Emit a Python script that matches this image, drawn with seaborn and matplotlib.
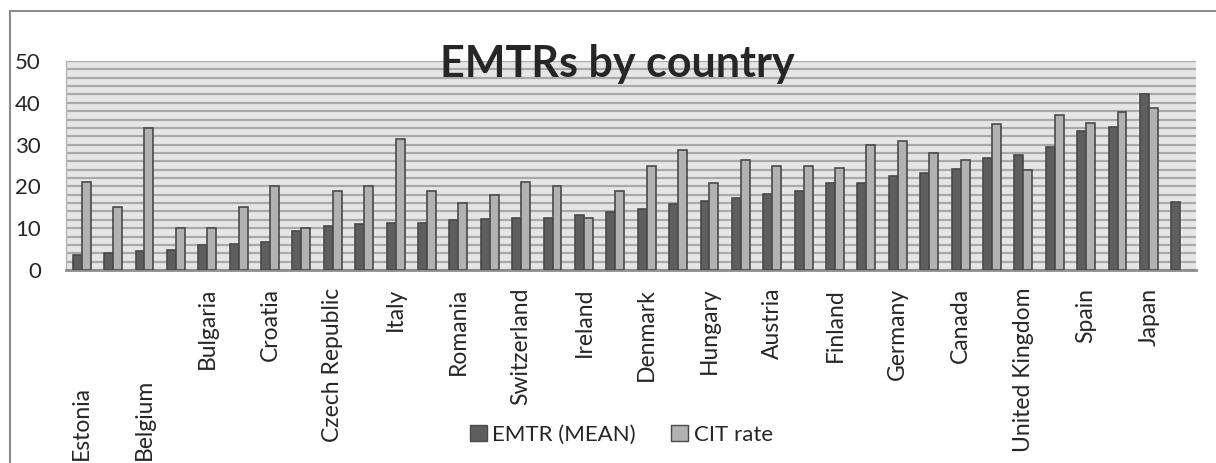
import numpy as np
import pandas as pd
import matplotlib
matplotlib.use('Agg')
import matplotlib.pyplot as plt
import seaborn as sns
from matplotlib.patches import Rectangle, Patch
from matplotlib.ticker import MultipleLocator

# every other category label is hidden in the original chart (Excel skips them)
labels = ['Estonia', '', 'Belgium', '', 'Bulgaria', '', 'Croatia', '',
          'Czech Republic', '', 'Italy', '', 'Romania', '', 'Switzerland', '',
          'Ireland', '', 'Denmark', '', 'Hungary', '', 'Austria', '',
          'Finland', '', 'Germany', '', 'Canada', '', 'United Kingdom', '',
          'Spain', '', 'Japan', '']
emtr = [3.5, 4.1, 4.5, 4.7, 6.1, 6.3, 6.8, 9.3, 10.5, 11.1, 11.2, 11.2,
        11.9, 12.2, 12.4, 12.5, 13.2, 13.8, 14.7, 15.8, 16.6, 17.3, 18.3, 18.9,
        20.7, 20.8, 22.5, 23.3, 24.2, 26.9, 27.4, 29.4, 33.3, 34.3, 42.2, 16.3]
cit = [21, 15, 34, 10, 10, 15, 20, 10, 19, 20, 31.3, 19,
       16, 18, 21.1, 20, 12.4, 19, 25, 28.7, 20.7, 26.2, 25, 25,
       24.4, 30, 30.9, 27.9, 26.4, 35, 23.9, 37.1, 35.2, 37.9, 38.7, np.nan]
series = ['EMTR (MEAN)', 'CIT rate']
colors = ['#5e5e5e', '#b2b2b2']

n = len(labels)
df = pd.DataFrame({
    'pos': list(range(n)) * 2,
    'series': [series[0]] * n + [series[1]] * n,
    'value': emtr + cit,
})

sns.set_style('white')
plt.rcParams['font.family'] = ['Lato', 'DejaVu Sans']

fig = plt.figure(figsize=(12.16, 4.63), dpi=100)
ax = fig.add_axes([66/1216, 1 - 270/463, 1130/1216, 209/463])
ax.set_facecolor('#e6e6e6')

sns.barplot(data=df, x='pos', y='value', hue='series', hue_order=series,
            palette=colors, width=0.57, gap=0, edgecolor='#4a4a4a',
            linewidth=1.2, legend=False, ax=ax, zorder=3)

ax.set_xlim(-0.5, n - 0.5)
ax.set_ylim(0, 50)
ax.set_yticks(range(0, 51, 10))
ax.yaxis.set_minor_locator(MultipleLocator(2))
ax.grid(which='both', axis='y', color='#a9a9a9', lw=1.6, zorder=0)
ax.set_axisbelow(True)
ax.tick_params(axis='y', which='both', length=0, pad=18, labelsize=16)
ax.set_xticks([])
ax.set_xlabel('')
ax.set_ylabel('')
for s in ['top', 'right']:
    ax.spines[s].set_visible(False)
ax.spines['left'].set_color('#b5b5b5')
ax.spines['left'].set_linewidth(1)
ax.spines['bottom'].set_color('#8c8c8c')
ax.spines['bottom'].set_linewidth(2)

tr = ax.get_xaxis_transform()
for i, lab in enumerate(labels):
    if not lab:
        continue
    if i < 3:
        ax.text(i, -0.91, lab, rotation=90, ha='center', va='bottom',
                fontsize=16.5, transform=tr, clip_on=False)
    else:
        ax.text(i, -0.085, lab, rotation=90, ha='center', va='top',
                fontsize=16.5, transform=tr, clip_on=False)

fig.text(0.508, 1 - 77/463, 'EMTRs by country', ha='center', va='baseline',
         fontsize=31, fontweight='bold')

handles = [Patch(facecolor=c, edgecolor='#4a4a4a', lw=1) for c in colors]
fig.legend(handles, series, loc='center', bbox_to_anchor=(0.511, 1 - 435/463),
           ncol=2, frameon=False, fontsize=16, handlelength=0.75,
           handleheight=0.75, handletextpad=0.25, columnspacing=1.6)

fig.add_artist(Rectangle((10/1216, -0.1), 1.2, 1.1 - 11/463,
                         transform=fig.transFigure, fill=False,
                         ec='#8c8c8c', lw=1.5))

fig.savefig('out.png', dpi=100, facecolor='white')
